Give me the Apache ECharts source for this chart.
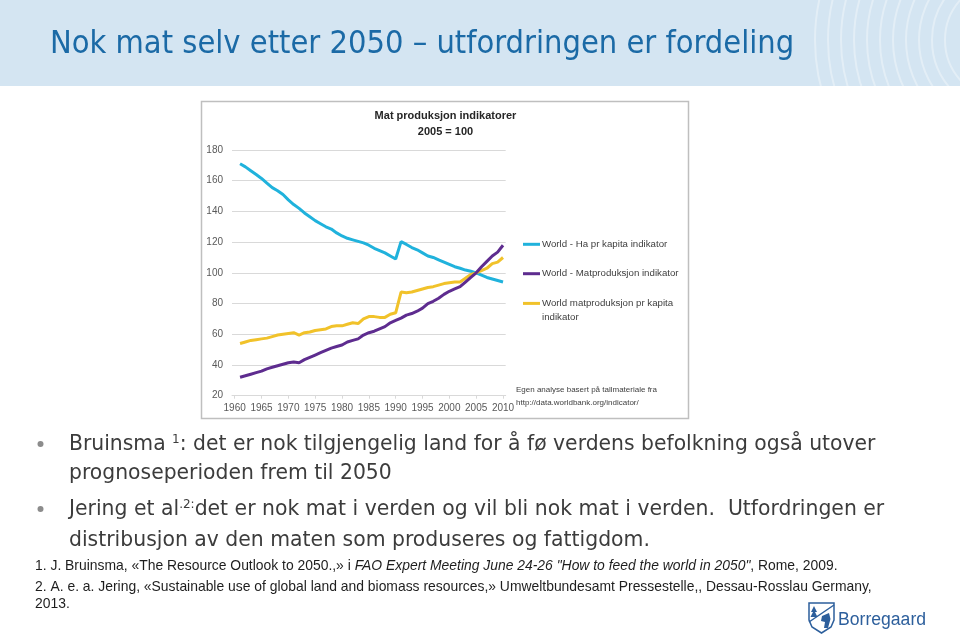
<!DOCTYPE html>
<html><head><meta charset="utf-8">
<script src="https://cdn.jsdelivr.net/npm/echarts@6/dist/echarts.min.js"></script>
<style>html,body{margin:0;padding:0;background:#fff}#c{width:960px;height:634px}#err{position:absolute;left:220px;top:160px;font:11px monospace;color:red;width:280px}</style>
</head><body><div id="c"></div><div id="err"></div>
<script>
// Categories (years)
const years = [];
for (let y = 1960; y <= 2010; y++) years.push(String(y));
// Series values (2005 = 100), 1960 has no data
const haPerCapita = [null,171,169,166.5,164,161.5,158.5,155.5,153.5,151,147.5,144.5,142,139,136.5,134,132,130,128.5,126,124,122.5,121.5,120.5,119.5,118,116,114.5,113,111,109,120.3,118.5,116.5,115,113,111,110,108.5,107,105.5,104,103,101.8,101,100,98.5,97,96,95,94];
const foodProduction = [null,32,33,34,35,36,37.5,38.5,39.5,40.5,41.5,42,41.5,43.5,45,46.5,48,49.5,51,52,53,55,56,57,59.5,61,62,63.5,65,67.5,69,70.5,72.5,73.5,75,77,80,81.5,83.5,86,88,89.5,91,94,97,100,104,107.5,111,113.5,118];
const foodPerCapita = [null,54,55,56,56.5,57,57.5,58.5,59.5,60,60.5,61,59.5,61,61.5,62.5,63,63.5,65,65.5,65.5,66.5,67.5,67,70,71.5,71.5,71,71,73,74,87.5,87,87.5,88.5,89.5,90.5,91,92,93,93.5,94,94,96.5,99,100,101.5,103,106,107,110];
const seriesNames = ['World - Ha pr kapita indikator','World - Matproduksjon indikator','World matproduksjon pr kapita indikator'];
const yTicks = {min:20, max:180, interval:20};

const chart = echarts.init(document.getElementById('c'), null, {renderer:'canvas'});
const errBox = document.getElementById('err');
function safe(label, opt){ try { chart.setOption(opt); } catch(e){ errBox.textContent += label + ': ' + e.message + '\n'; } }
const body = '"Liberation Sans", Arial, sans-serif';
const wide = '"DejaVu Sans", sans-serif';
const circles = [];
for (let r = 60; r <= 200; r += 13) {
  circles.push({type:'circle', z:-4, silent:true, shape:{cx:1005, cy:40, r:r},
    style:{fill:'none', stroke:'rgba(255,255,255,0.35)', lineWidth:2}});
}
const bodyColor = '#3c3c3c';
const refColor = '#1e1e1e';
const logoBlue = '#2d5f9c';
safe('base', {
  animation:false,
  backgroundColor:'#ffffff',
  grid:{left:232, right:454.3, top:150, bottom:238.3},
  xAxis:{type:'category', data:years, boundaryGap:true,
    axisLine:{lineStyle:{color:'#d9d9d9'}},
    axisTick:{show:true, interval:4, alignWithLabel:true, length:3, lineStyle:{color:'#d9d9d9'}},
    axisLabel:{interval:4, color:'#595959', fontSize:10, fontFamily:body, margin:8}},
  yAxis:{type:'value', min:yTicks.min, max:yTicks.max, interval:yTicks.interval,
    axisLine:{show:false}, axisTick:{show:false},
    axisLabel:{color:'#595959', fontSize:10, fontFamily:body, margin:9},
    splitLine:{lineStyle:{color:'#d9d9d9', width:1}}},
  series:[
    {name:seriesNames[0], type:'line', data:haPerCapita, symbol:'none', itemStyle:{color:'#20b2dc'}, lineStyle:{width:3, color:'#20b2dc'}, z:3},
    {name:seriesNames[1], type:'line', data:foodProduction, symbol:'none', itemStyle:{color:'#5e2c8f'}, lineStyle:{width:3, color:'#5e2c8f'}, z:4},
    {name:seriesNames[2], type:'line', data:foodPerCapita, symbol:'none', itemStyle:{color:'#f1c22a'}, lineStyle:{width:3, color:'#f1c22a'}, z:3}
  ]
});
safe('legend', {
  legend:[
    {data:[seriesNames[0]], left:523, top:239.3, padding:0, icon:'rect', itemWidth:17, itemHeight:3, itemGap:0,
     textStyle:{color:'#404040', fontSize:9.7, fontFamily:body, padding:[0,0,0,-3]}},
    {data:[seriesNames[1]], left:523, top:268.7, padding:0, icon:'rect', itemWidth:17, itemHeight:3, itemGap:0,
     textStyle:{color:'#404040', fontSize:9.7, fontFamily:body, padding:[0,0,0,-3]}},
    {data:[seriesNames[2]], left:523, top:282.4, padding:0, icon:'rect', itemWidth:17, itemHeight:3, itemGap:0,
     formatter:function(){return '\nWorld matproduksjon pr kapita\nindikator';},
     textStyle:{color:'#404040', fontSize:9.7, fontFamily:body, lineHeight:14, padding:[0,0,0,-3]}}
  ]
});
safe('graphic', {
  graphic:[
    {type:'rect', z:-6, silent:true, shape:{x:0, y:0, width:960, height:86}, style:{fill:'#d4e5f2'}},
    ...circles,
    {type:'rect', z:-3, silent:true, shape:{x:0, y:86, width:960, height:548}, style:{fill:'#ffffff'}},
    {type:'rect', z:-2, silent:true, shape:{x:201.5, y:101.5, width:487, height:317}, style:{fill:'#ffffff', stroke:'#bfbfbf', lineWidth:1.5}},
    {type:'text', z:5, style:{text:'Nok mat selv etter 2050 – utfordringen er fordeling', x:50, y:45, fill:'#1b6aa6',
      font:'32.3px "DejaVu Sans Condensed", sans-serif', verticalAlign:'middle'}},
    {type:'text', z:5, style:{text:'Mat produksjon indikatorer', x:445.5, y:116, align:'center', verticalAlign:'middle', fill:'#262626',
      font:'bold 11px '+body}},
    {type:'text', z:5, style:{text:'2005 = 100', x:445.5, y:131.5, align:'center', verticalAlign:'middle', fill:'#262626',
      font:'bold 11px '+body}},
    {type:'text', z:5, style:{text:'Egen analyse basert på tallmateriale fra', x:516, y:389.5, verticalAlign:'middle', fill:'#404040',
      font:'8px '+body}},
    {type:'text', z:5, style:{text:'http://data.worldbank.org/indicator/', x:516, y:403, verticalAlign:'middle', fill:'#404040',
      font:'8px '+body}},
    {type:'circle', z:5, shape:{cx:40.5, cy:444, r:3}, style:{fill:'#8c8c8c'}},
    {type:'circle', z:5, shape:{cx:40.5, cy:509, r:3}, style:{fill:'#8c8c8c'}},
    {type:'text', z:5, style:{x:69, y:445, verticalAlign:'middle',
      text:'{a|Bruinsma }{s|1}{a|: det er nok tilgjengelig land for å fø verdens befolkning også utover}',
      rich:{a:{fontSize:20.35, fontFamily:wide, fill:bodyColor}, s:{fontSize:12, fontFamily:wide, fill:bodyColor, verticalAlign:'top', padding:[0,0,10,0]}}}},
    {type:'text', z:5, style:{text:'prognoseperioden frem til 2050', x:69, y:474, verticalAlign:'middle', fill:bodyColor, font:'20.35px '+wide}},
    {type:'text', z:5, style:{x:69, y:510, verticalAlign:'middle',
      text:'{a|Jering et al}{s|.2:}{a|det er nok mat i verden og vil bli nok mat i verden.  Utfordringen er}',
      rich:{a:{fontSize:20.4, fontFamily:wide, fill:bodyColor}, s:{fontSize:12, fontFamily:wide, fill:bodyColor, verticalAlign:'top', padding:[0,0,10,0]}}}},
    {type:'text', z:5, style:{text:'distribusjon av den maten som produseres og fattigdom.', x:69, y:540.5, verticalAlign:'middle', fill:bodyColor, font:'20.4px '+wide}},
    {type:'text', z:5, style:{x:35, y:566, verticalAlign:'middle',
      text:'{a|1. J. Bruinsma, «The Resource Outlook to 2050.,» i }{i|FAO Expert Meeting June 24-26 "How to feed the world in 2050"}{a|, Rome, 2009.}',
      rich:{a:{fontSize:13.9, fontFamily:body, fill:refColor}, i:{fontSize:13.9, fontStyle:'italic', fontFamily:body, fill:refColor}}}},
    {type:'text', z:5, style:{text:'2. A. e. a. Jering, «Sustainable use of global land and biomass resources,» Umweltbundesamt Pressestelle,, Dessau-Rosslau Germany,', x:35, y:587, verticalAlign:'middle', fill:refColor, font:'13.9px '+body}},
    {type:'text', z:5, style:{text:'2013.', x:35, y:604, verticalAlign:'middle', fill:refColor, font:'13.9px '+body}},
    // Borregaard logo
    {type:'polygon', z:5, shape:{points:[[809,603],[834,603],[834,620],[831,627],[821.5,633],[812,627],[809,620]]}, style:{fill:'#ffffff', stroke:logoBlue, lineWidth:1.5}},
    {type:'line', z:5, shape:{x1:809, y1:622, x2:834, y2:605}, style:{stroke:logoBlue, lineWidth:1.5}},
    {type:'polygon', z:5, shape:{points:[[814,606],[811,612],[813,612],[810.5,617],[817.5,617],[815,612],[817,612]]}, style:{fill:logoBlue}},
    {type:'polygon', z:5, shape:{points:[[822,616],[829,613],[830.5,619],[828,628],[824,628],[825,622],[821,621]]}, style:{fill:logoBlue}},
    {type:'text', z:5, style:{text:'Borregaard', x:838, y:620, verticalAlign:'middle', fill:logoBlue, font:'17.6px '+body}}
  ]
});
</script></body></html>
